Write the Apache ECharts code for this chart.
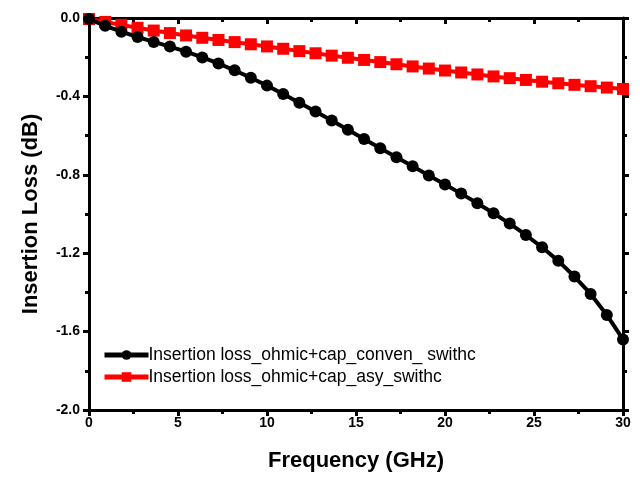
<!DOCTYPE html>
<html>
<head>
<meta charset="utf-8">
<script src="https://cdn.jsdelivr.net/npm/echarts@6/dist/echarts.min.js"></script>
<style>html,body{margin:0;padding:0;background:#fff}#c{width:640px;height:477px}</style>
</head>
<body>
<div id="c"></div>
<script>
const freq = [0, 0.909, 1.818, 2.727, 3.636, 4.545, 5.455, 6.364, 7.273, 8.182, 9.091, 10, 10.909, 11.818, 12.727, 13.636, 14.545, 15.455, 16.364, 17.273, 18.182, 19.091, 20, 20.909, 21.818, 22.727, 23.636, 24.545, 25.455, 26.364, 27.273, 28.182, 29.091, 30];
const convLoss = [-0.005, -0.040, -0.070, -0.097, -0.122, -0.146, -0.172, -0.201, -0.232, -0.267, -0.305, -0.345, -0.388, -0.432, -0.477, -0.523, -0.570, -0.617, -0.664, -0.710, -0.756, -0.803, -0.849, -0.896, -0.945, -0.996, -1.049, -1.107, -1.170, -1.239, -1.319, -1.408, -1.515, -1.640];
const asyLoss = [-0.005, -0.020, -0.035, -0.050, -0.064, -0.077, -0.089, -0.101, -0.112, -0.123, -0.134, -0.145, -0.157, -0.169, -0.180, -0.192, -0.203, -0.214, -0.225, -0.236, -0.247, -0.258, -0.268, -0.278, -0.288, -0.298, -0.307, -0.316, -0.325, -0.333, -0.341, -0.348, -0.355, -0.362];
const seriesNames = ['Insertion loss_ohmic+cap_conven_ swithc', 'Insertion loss_ohmic+cap_asy_swithc'];
const xTitle = 'Frequency (GHz)';
const yTitle = 'Insertion Loss (dB)';

const chart = echarts.init(document.getElementById('c'), null, {renderer: 'canvas'});
const FONT = '"Liberation Sans Narrow", "Liberation Sans", Arial, sans-serif';
const axisLine = {show: true, onZero: false, lineStyle: {color: '#000', width: 3}};
const tickLbl = {color: '#000', fontFamily: FONT, fontWeight: 'bold', fontSize: 14};
function zip(xs, ys){ return xs.map((x,i)=>[x, ys[i]]); }

chart.setOption({
  animation: false,
  backgroundColor: '#fff',
  grid: {left: 89, right: 17, top: 18, bottom: 67},
  legend: {
    left: 102, top: 346, orient: 'vertical', itemGap: 4, padding: 0,
    itemWidth: 44, itemHeight: 12,
    lineStyle: {width: 5},
    textStyle: {color: '#000', fontFamily: FONT, fontSize: 17.5, padding: [0,0,0,-5]},
    data: seriesNames
  },
  xAxis: [{
    type: 'value', position: 'bottom', min: 0, max: 30, interval: 5,
    name: xTitle, nameLocation: 'middle', nameGap: 40,
    nameTextStyle: {color: '#000', fontFamily: FONT, fontWeight: 'bold', fontSize: 22},
    axisLine: axisLine,
    axisTick: {show: true, inside: false, length: 6, lineStyle: {color: '#000', width: 3}},
    minorTick: {show: true, splitNumber: 2, length: 4, lineStyle: {color: '#000', width: 3}},
    axisLabel: Object.assign({margin: 6}, tickLbl),
    splitLine: {show: false}
  }, {
    type: 'value', position: 'top', min: 0, max: 30, interval: 5,
    axisLine: axisLine,
    axisTick: {show: true, inside: true, length: 6, lineStyle: {color: '#000', width: 3}},
    minorTick: {show: true, splitNumber: 2, length: 4, lineStyle: {color: '#000', width: 3}},
    axisLabel: {show: false}, splitLine: {show: false}
  }],
  yAxis: [{
    type: 'value', position: 'left', min: -2, max: 0, interval: 0.4,
    name: yTitle, nameLocation: 'middle', nameGap: 47, nameRotate: 90,
    nameTextStyle: {color: '#000', fontFamily: FONT, fontWeight: 'bold', fontSize: 22},
    axisLine: axisLine,
    axisTick: {show: true, inside: false, length: 6, lineStyle: {color: '#000', width: 3}},
    minorTick: {show: true, splitNumber: 2, length: 4, lineStyle: {color: '#000', width: 3}},
    axisLabel: Object.assign({margin: 9, formatter: v => v.toFixed(1)}, tickLbl),
    splitLine: {show: false}
  }, {
    type: 'value', position: 'right', min: -2, max: 0, interval: 0.4,
    axisLine: axisLine,
    axisTick: {show: true, inside: false, length: 6, lineStyle: {color: '#000', width: 3}},
    minorTick: {show: true, splitNumber: 2, length: 4, lineStyle: {color: '#000', width: 3}},
    axisLabel: {show: false}, splitLine: {show: false}
  }],
  series: [{
    name: seriesNames[0], type: 'line', xAxisIndex: 0, yAxisIndex: 0,
    data: zip(freq, convLoss), clip: false,
    symbol: 'circle', symbolSize: 12,
    lineStyle: {color: '#000', width: 4},
    itemStyle: {color: '#000'}, z: 3
  }, {
    name: seriesNames[1], type: 'line', xAxisIndex: 0, yAxisIndex: 0,
    data: zip(freq, asyLoss), clip: false,
    symbol: 'rect', symbolSize: 12,
    lineStyle: {color: '#ff0000', width: 4},
    itemStyle: {color: '#ff0000'}, z: 2
  }]
});
</script>
</body>
</html>
